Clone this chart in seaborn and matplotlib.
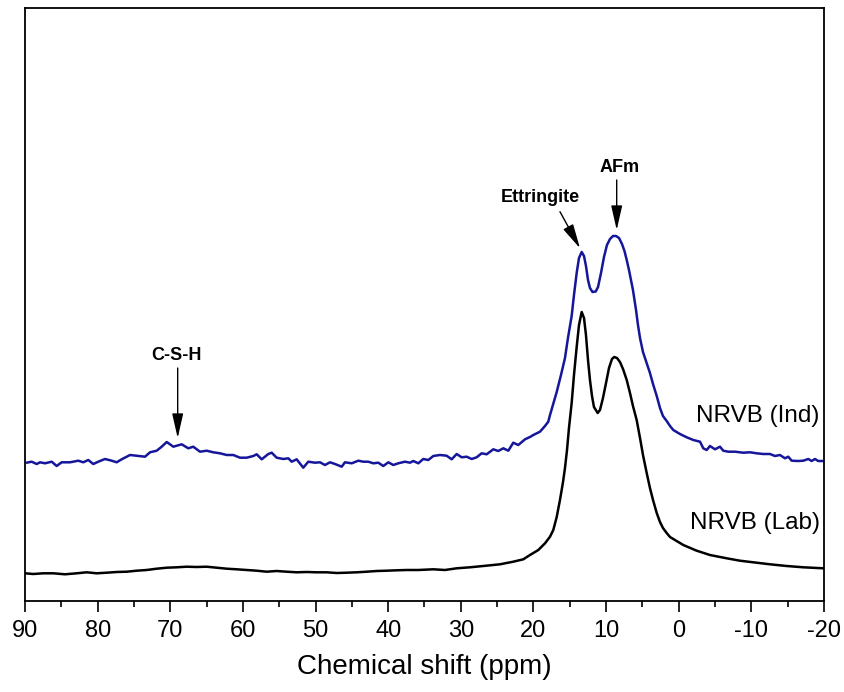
import matplotlib
matplotlib.use("Agg")
import matplotlib.pyplot as plt
import seaborn as sns
import pandas as pd
from matplotlib.ticker import MultipleLocator

# ---- data (chemical shift in ppm, intensity in arbitrary units) ----
ind_ppm = [89.77, 89.08, 88.39, 87.93, 87.25, 86.32, 85.64, 84.95, 83.80, 82.66,
           81.97, 81.29, 80.60, 79.91, 78.99, 78.06, 77.38, 76.69, 75.54, 74.40,
           73.48, 72.79, 71.87, 71.18, 70.49, 69.58, 68.43, 67.52, 66.83, 65.91,
           64.99, 64.08, 63.15, 62.23, 61.32, 60.40, 59.48, 58.57, 58.10, 57.41,
           56.50, 56.04, 55.35, 54.44, 53.75, 53.28, 52.60, 51.69, 51.00, 50.08,
           49.39, 48.70, 48.01, 47.32, 46.40, 45.95, 45.02, 44.11, 43.43, 42.74,
           42.05, 41.36, 40.67, 39.98, 39.30, 38.61, 37.69, 37.00, 36.54, 35.85,
           35.17, 34.48, 33.79, 32.87, 31.95, 31.26, 30.57, 29.88, 29.19, 28.50,
           27.82, 27.13, 26.44, 25.53, 24.84, 24.15, 23.46, 22.78, 22.09, 21.16,
           20.48, 20.02, 19.10, 18.41, 17.96, 17.72, 16.80, 16.21, 15.66, 15.25,
           14.74, 14.42, 14.05, 13.73, 13.36, 13.04, 12.77, 12.49, 12.22, 11.87,
           11.43, 11.11, 10.70, 10.29, 9.88, 9.46, 9.05, 8.64, 8.22, 7.81,
           7.47, 7.16, 6.85, 6.57, 6.30, 5.88, 5.61, 5.33, 4.92, 4.41,
           3.96, 3.54, 3.03, 2.58, 2.17, 1.66, 1.20, 0.75, -0.17, -1.10,
           -2.01, -2.93, -3.38, -3.85, -4.30, -4.99, -5.68, -6.13, -6.82, -7.75,
           -8.89, -9.81, -10.73, -11.64, -12.56, -13.25, -13.94, -14.63, -15.08, -15.55,
           -16.46, -17.15, -17.84, -18.30, -18.76, -19.21, -19.90]
ind_int = [138.3, 139.3, 137.0, 138.7, 137.7, 139.3, 135.0, 138.7, 138.7, 140.3,
           138.7, 141.0, 137.0, 139.3, 142.0, 140.3, 138.7, 141.7, 146.0, 145.0,
           144.3, 148.7, 150.3, 154.3, 159.0, 154.3, 156.7, 152.7, 154.3, 149.3,
           150.3, 148.7, 147.7, 146.0, 146.0, 143.3, 143.3, 145.0, 146.7, 141.7,
           147.0, 148.3, 143.3, 142.0, 142.7, 139.3, 141.7, 133.3, 139.3, 138.3,
           138.7, 136.0, 138.7, 137.0, 134.3, 138.7, 137.7, 140.3, 139.3, 139.3,
           137.7, 138.3, 135.0, 138.7, 136.0, 137.7, 139.3, 138.3, 140.0, 137.7,
           142.0, 141.0, 145.0, 146.0, 145.3, 141.7, 147.0, 143.7, 144.3, 142.0,
           143.7, 147.7, 146.7, 151.7, 150.0, 152.7, 150.3, 158.3, 156.0, 161.7,
           164.0, 166.0, 169.3, 175.0, 179.3, 186.0, 209.0, 226.0, 243.0, 263.0,
           285.0, 306.0, 328.0, 343.0, 349.0, 345.0, 335.0, 321.0, 313.0, 309.0,
           309.5, 314.0, 328.0, 344.0, 356.0, 362.0, 365.0, 365.0, 363.0, 357.0,
           350.0, 341.0, 331.0, 321.0, 311.0, 291.0, 276.0, 263.0, 249.0, 238.0,
           228.0, 217.0, 205.0, 193.0, 185.0, 180.0, 175.0, 171.0, 167.0, 163.7,
           161.0, 159.3, 152.7, 151.0, 155.0, 151.7, 154.3, 150.3, 149.3, 149.3,
           148.3, 148.7, 147.7, 147.0, 147.0, 145.0, 146.0, 142.7, 144.3, 140.3,
           140.0, 140.3, 142.0, 140.0, 142.0, 140.0, 140.0]

lab_ppm = [90.00, 88.86, 87.48, 86.10, 84.49, 82.88, 81.51, 80.13, 78.75, 77.38,
           76.00, 74.62, 73.25, 71.87, 70.49, 69.12, 67.74, 66.36, 64.99, 63.61,
           62.23, 60.86, 59.48, 58.10, 56.73, 55.35, 53.97, 52.60, 51.22, 49.84,
           48.47, 47.09, 45.71, 44.34, 42.96, 41.58, 40.20, 38.83, 37.45, 35.85,
           33.79, 32.18, 30.57, 28.74, 26.91, 24.61, 22.78, 21.40, 20.48, 19.33,
           18.41, 17.72, 17.27, 16.80, 16.35, 15.93, 15.66, 15.38, 15.11, 14.74,
           14.42, 14.05, 13.73, 13.36, 13.04, 12.77, 12.49, 12.22, 11.94, 11.67,
           11.16, 10.84, 10.43, 10.01, 9.60, 9.19, 8.87, 8.50, 8.09, 7.67,
           7.16, 6.71, 6.30, 5.79, 5.33, 4.92, 4.41, 3.96, 3.54, 3.03,
           2.58, 2.17, 1.66, 1.20, 0.75, -0.63, -2.47, -4.30, -6.60, -8.43,
           -10.26, -12.56, -14.86, -17.15, -19.90]
lab_int = [27.7, 27.0, 27.7, 27.7, 26.7, 27.7, 28.7, 27.7, 28.3, 29.0,
           29.3, 30.3, 31.0, 32.3, 33.3, 33.7, 34.3, 34.0, 34.3, 33.3,
           32.3, 31.7, 31.0, 30.3, 29.3, 30.0, 29.3, 28.7, 29.0, 28.7,
           28.7, 28.0, 28.3, 28.7, 29.3, 30.0, 30.3, 30.7, 31.0, 31.0,
           31.7, 31.0, 32.7, 33.7, 35.0, 36.7, 39.3, 41.7, 46.0, 51.0,
           57.7, 64.3, 71.0, 84.0, 101.0, 119.0, 133.0, 151.0, 173.0, 198.0,
           226.0, 254.0, 276.0, 289.0, 283.0, 266.0, 241.0, 221.0, 205.0, 194.0,
           188.0, 191.0, 203.0, 218.0, 233.0, 242.0, 244.0, 243.0, 239.0, 232.0,
           221.0, 208.0, 195.0, 181.0, 163.0, 146.0, 128.0, 113.0, 101.0, 88.0,
           79.0, 73.0, 68.0, 64.0, 62.0, 56.0, 50.3, 46.0, 42.7, 40.3,
           38.7, 36.7, 35.0, 33.7, 32.7]

series_names = ["NRVB (Ind)", "NRVB (Lab)"]
series_colors = ["#16169a", "#000000"]
x_ticks = [90, 80, 70, 60, 50, 40, 30, 20, 10, 0, -10, -20]
x_label = "Chemical shift (ppm)"
peak_labels = ["C-S-H", "Ettringite", "AFm"]

# ---- plotting ----
sns.set_style("white")
plt.rcParams["font.family"] = ["Liberation Sans", "DejaVu Sans"]
plt.rcParams["text.color"] = "black"
plt.rcParams["axes.labelcolor"] = "black"
plt.rcParams["xtick.color"] = "black"

df = pd.concat([
    pd.DataFrame({"ppm": ind_ppm, "intensity": ind_int, "sample": series_names[0]}),
    pd.DataFrame({"ppm": lab_ppm, "intensity": lab_int, "sample": series_names[1]}),
], ignore_index=True)

fig = plt.figure(figsize=(8.44, 6.92), dpi=100)
ax = fig.add_axes([25 / 844, 91 / 692, 799 / 844, 593 / 692])

sns.lineplot(data=df, x="ppm", y="intensity", hue="sample",
             palette=dict(zip(series_names, series_colors)),
             sort=False, estimator=None, linewidth=1.8, legend=False, ax=ax)

ax.set_xlim(90, -20)
ax.set_ylim(0, 593)
ax.set_xticks(x_ticks)
ax.set_xticklabels([str(t) for t in x_ticks])
ax.xaxis.set_minor_locator(MultipleLocator(5))
ax.set_yticks([])
ax.set_ylabel("")
ax.set_xlabel(x_label, fontsize=20, labelpad=8, color="black")

ax.tick_params(axis="x", which="major", direction="out", length=8, width=1.2,
               labelsize=17, pad=6, bottom=True, colors="black")
ax.tick_params(axis="x", which="minor", direction="out", length=4, width=1.2,
               bottom=True, colors="black")
for s in ax.spines.values():
    s.set_visible(True)
    s.set_color("black")
    s.set_linewidth(1.3)

# series labels
ax.text(-19.4, 185, series_names[0], ha="right", va="center", fontsize=17.5,
        color="black")
ax.text(-19.4, 78.5, series_names[1], ha="right", va="center", fontsize=17.5,
        color="black")

# peak annotations
arrow = dict(arrowstyle="-|>,head_length=0.75,head_width=0.17", color="black",
             lw=1.0, mutation_scale=20, shrinkA=0, shrinkB=0)
ax.text(69.2, 246, peak_labels[0], ha="center", va="center",
        fontsize=13, fontweight="bold", color="black")
ax.annotate("", xy=(68.98, 163), xytext=(68.98, 233), arrowprops=arrow)
ax.text(19.1, 403, peak_labels[1], ha="center", va="center",
        fontsize=13, fontweight="bold", color="black")
ax.annotate("", xy=(13.59, 352.7), xytext=(16.35, 389.3), arrowprops=arrow)
ax.text(8.09, 433, peak_labels[2], ha="center", va="center",
        fontsize=13, fontweight="bold", color="black")
ax.annotate("", xy=(8.54, 371), xytext=(8.54, 421), arrowprops=arrow)

fig.savefig("out.png", dpi=100)
